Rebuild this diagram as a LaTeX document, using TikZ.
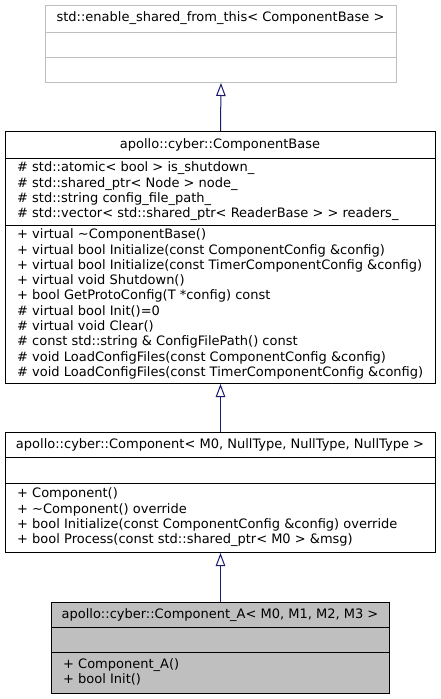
\documentclass[tikz,border=0pt]{standalone}
\usepackage{fontspec}
\setmainfont{DejaVu Sans}
\usetikzlibrary{arrows.meta}
\definecolor{grey75}{RGB}{191,191,191}
\definecolor{edgeblue}{RGB}{25,25,112}
\tikzset{
	classbox/.style={draw=black, line width=1pt, inner sep=0pt, anchor=north west},
	classsep/.style={draw=black, line width=1pt},
	classtitle/.style={inner sep=0pt, font=\fontsize{13}{15.3}\selectfont},
	classbody/.style={inner sep=0pt, anchor=west, align=left, font=\fontsize{13}{15.3}\selectfont},
	inherit/.style={draw=edgeblue, line width=1pt, -{Triangle[open, length=13pt, width=9.5pt]}}
}

\begin{document}
\begin{tikzpicture}[x=1pt, y=-1pt]
			%%%%% START %%%%%
			\useasboundingbox (0,0) rectangle (441,699);
			
			\node[classbox, draw=grey75, minimum width=351pt, minimum height=77pt] (shared) at (45,5) {};
			\draw[classsep, draw=grey75] (45,32) -- (396,32);
			\draw[classsep, draw=grey75] (45,57) -- (396,57);
			\node[classtitle] (sharedname) at (220.5,18.5) {std::enable\_shared\_from\_this< ComponentBase >};
			
			\node[classbox, minimum width=430pt, minimum height=252pt] (base) at (5,131) {};
			\draw[classsep] (5,158) -- (435,158);
			\draw[classsep] (5,225) -- (435,225);
			\node[classtitle] (basename) at (220,144.5) {apollo::cyber::ComponentBase};
			\node[classbody] (baseattr) at (17,191.5) {\# std::atomic< bool > is\_shutdown\_\\
				\# std::shared\_ptr< Node > node\_\\
				\# std::string config\_file\_path\_\\
				\# std::vector< std::shared\_ptr< ReaderBase > > readers\_};
			\node[classbody] (baseops) at (17,304) {+ virtual \textasciitilde ComponentBase()\\
				+ virtual bool Initialize(const ComponentConfig \&config)\\
				+ virtual bool Initialize(const TimerComponentConfig \&config)\\
				+ virtual void Shutdown()\\
				+ bool GetProtoConfig(T *config) const\\
				\# virtual bool Init()=0\\
				\# virtual void Clear()\\
				\# const std::string \& ConfigFilePath() const\\
				\# void LoadConfigFiles(const ComponentConfig \&config)\\
				\# void LoadConfigFiles(const TimerComponentConfig \&config)};
			
			\node[classbox, minimum width=430pt, minimum height=120pt] (comp) at (5,432) {};
			\draw[classsep] (5,457) -- (435,457);
			\draw[classsep] (5,483) -- (435,483);
			\node[classtitle] (compname) at (220,444.5) {apollo::cyber::Component< M0, NullType, NullType, NullType >};
			\node[classbody] (compops) at (17,517.5) {+ Component()\\
				+ \textasciitilde Component() override\\
				+ bool Initialize(const ComponentConfig \&config) override\\
				+ bool Process(const std::shared\_ptr< M0 > \&msg)};
			
			\node[classbox, fill=grey75, minimum width=338pt, minimum height=91pt] (compa) at (51,602) {};
			\draw[classsep] (51,627.5) -- (389,627.5);
			\draw[classsep] (51,652.5) -- (389,652.5);
			\node[classtitle] (companame) at (220,615) {apollo::cyber::Component\_A< M0, M1, M2, M3 >};
			\node[classbody] (compaops) at (63,672) {+ Component\_A()\\
				+ bool Init()};
			
			\draw[inherit] (base.north) -- (shared.south);
			\draw[inherit] (comp.north) -- (base.south);
			\draw[inherit] (compa.north) -- (comp.south);
			
			%%%%% END %%%%%
\end{tikzpicture}
\end{document}
